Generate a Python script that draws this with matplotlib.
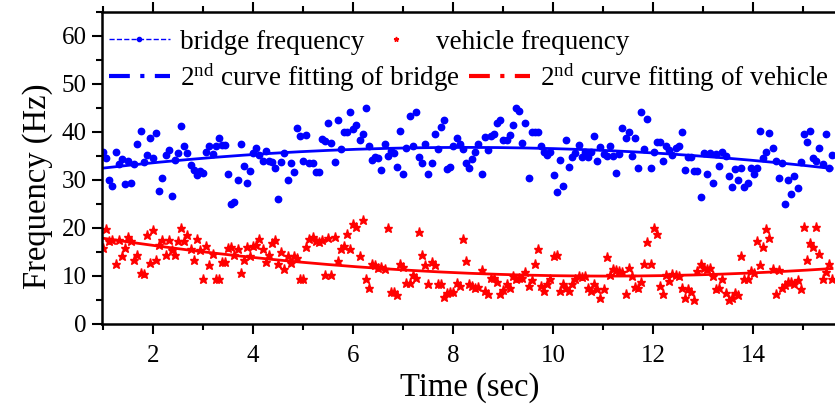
import numpy as np
import matplotlib
matplotlib.use("Agg")
import matplotlib.pyplot as plt
from matplotlib.lines import Line2D
from matplotlib.ticker import MultipleLocator

plt.rcParams['font.family'] = ['Liberation Serif', 'DejaVu Serif']
plt.rcParams['mathtext.fontset'] = 'custom'
plt.rcParams['mathtext.rm'] = 'Liberation Serif'
plt.rcParams['mathtext.it'] = 'Liberation Serif:italic'

# measured frequencies (Hz), sampled evenly from t = 1.0 s to t = 15.58 s
bridge_freq = [
    35.8, 34.5, 30.1, 28.8, 35.9, 33.3, 34.3, 29.1, 34.0, 29.4, 33.3, 37.4, 40.2, 33.8, 35.3,
    38.7, 34.6, 39.8, 27.8, 30.4, 35.3, 36.3, 26.7, 34.1, 35.6, 41.2, 37.1, 35.7, 33.2, 32.0,
    31.1, 31.8, 31.5, 35.9, 37.0, 35.5, 37.1, 38.7, 37.3, 37.3, 31.3, 25.0, 25.5, 29.9, 37.4,
    32.9, 29.4, 31.8, 35.7, 36.7, 35.2, 34.0, 36.0, 33.9, 33.7, 32.6, 26.1, 33.8, 35.6, 30.0,
    33.6, 31.6, 40.8, 39.1, 33.9, 39.4, 33.6, 33.5, 31.6, 31.6, 38.5, 38.2, 41.8, 37.8, 33.8,
    42.5, 36.5, 40.1, 39.9, 44.1, 40.7, 41.5, 38.4, 39.5, 44.9, 37.1, 34.1, 34.8, 34.6, 32.0,
    37.4, 34.9, 36.0, 35.6, 32.8, 40.3, 31.2, 36.6, 43.3, 37.1, 44.1, 34.7, 33.6, 37.4, 31.2,
    33.6, 39.5, 36.4, 41.0, 42.5, 32.3, 32.8, 37.1, 38.7, 37.4, 36.5, 33.6, 32.4,
    34.4, 35.8, 37.6, 31.2, 39.0, 36.3, 39.1, 39.5, 41.8, 42.5, 38.3, 38.3, 39.4, 41.5, 44.9,
    44.4, 37.8, 41.8, 30.5, 39.9, 40.1, 40.0, 37.1, 35.8, 35.2, 35.8, 31.0, 27.4, 34.2, 28.7,
    38.3, 32.8, 34.8, 35.6, 37.3, 34.8, 35.8, 34.8, 35.9, 39.1, 34.0, 36.9, 35.5, 35.1, 37.1,
    34.9, 31.5, 35.5, 40.9, 38.7, 40.1, 35.1, 38.7, 32.5, 44.1, 36.5, 42.8, 32.5,
    35.8, 38.0, 38.0, 34.0, 37.0, 36.3, 35.3, 36.6, 37.1, 40.1, 32.1, 34.8, 34.7, 31.9, 31.9,
    26.4, 35.7, 31.2, 35.7, 29.3, 35.5, 32.9, 35.9, 35.0, 30.8, 28.5, 32.3, 29.9, 32.6, 28.5,
    29.3, 32.6, 31.3, 32.6, 40.2, 34.5, 35.8, 39.7, 36.6, 34.0, 30.4, 33.6, 24.9, 29.9, 27.1,
    30.9, 28.3, 33.8, 39.5, 37.9, 40.2, 34.5, 34.0, 36.6, 33.4, 39.5, 32.4, 35.2,
]

vehicle_freq = [
    15.8, 19.7, 17.2, 17.4, 12.4, 17.6, 14.2, 15.8, 18.1, 17.2, 13.3, 14.3, 10.6, 10.4, 18.5,
    12.8, 19.5, 13.3, 16.5, 17.6, 14.4, 17.6, 15.5, 14.3, 17.2, 20.0, 17.2, 18.5, 15.7, 13.3,
    17.8, 15.5, 9.4, 16.3, 12.2, 14.5, 9.4, 9.4, 13.0, 13.0, 15.9, 16.0, 14.4, 15.7, 10.6,
    13.4, 16.0, 14.2, 16.3, 16.5, 17.8, 15.6, 13.0, 14.3, 16.9, 17.4, 12.6, 15.1, 11.5,
    14.1, 12.8, 14.1, 13.8, 9.4, 9.4, 16.0, 17.8, 18.2, 17.2, 17.1, 17.6, 10.3, 17.9, 10.3,
    18.2, 13.1, 15.6, 16.3, 18.7, 15.6, 20.8, 20.2, 14.1, 21.7, 9.4, 7.4, 12.4, 12.2, 11.7,
    11.8, 11.4, 20.1, 6.7, 6.7, 6.0, 12.4, 11.9, 8.6, 8.6, 10.2, 9.6, 19.2, 14.3, 12.3,
    8.3, 13.0, 12.2, 8.3, 8.3, 5.6, 6.4, 6.7, 6.7, 8.6, 7.9, 17.8, 13.1,
    8.3, 8.0, 7.6, 7.8, 11.3, 6.9, 6.3, 9.6, 9.6, 8.8, 6.3, 7.1, 8.3, 7.6, 10.1,
    9.3, 9.6, 9.5, 10.9, 8.0, 9.2, 12.6, 15.6, 7.9, 6.8, 8.3, 9.4, 14.1, 14.4, 6.8,
    8.4, 7.5, 6.8, 8.4, 9.4, 10.1, 9.8, 9.9, 7.5, 6.8, 8.3, 7.3, 5.4, 7.3, 14.0,
    10.2, 11.4, 11.3, 11.0, 10.9, 6.3, 11.7, 10.1, 7.7, 7.5, 8.7, 12.4, 17.1,
    12.4, 19.9, 18.7, 8.0, 6.3, 10.3, 9.0, 10.4, 10.2, 9.9, 7.4, 5.5, 7.3, 6.7, 4.9,
    11.0, 12.6, 11.6, 11.5, 11.6, 9.9, 7.2, 7.4, 9.4, 6.4, 5.1, 5.4, 6.4, 6.0, 14.1,
    9.4, 9.4, 11.0, 10.6, 17.2, 12.3, 16.0, 19.7, 18.0, 11.5, 6.3, 11.3, 7.4, 8.1, 8.8,
    8.8, 8.3, 9.1, 7.3, 20.2, 13.4, 16.8, 16.0, 20.2, 14.5, 9.4, 10.9, 12.4, 9.4,
]

t_start, t_end = 1.0, 15.58
t_bridge = np.linspace(t_start, t_end, len(bridge_freq))
t_vehicle = np.linspace(t_start, t_end, len(vehicle_freq))

# 2nd order polynomial fits
fit_bridge = np.polyval(np.polyfit(t_bridge, bridge_freq, 2), t_bridge)
fit_vehicle = np.polyval(np.polyfit(t_vehicle, vehicle_freq, 2), t_vehicle)

blue = '#0000FF'
red = '#FF0000'

fig = plt.figure(figsize=(8.35, 4.05), dpi=100)
ax = fig.add_axes([102 / 835, 81 / 405, 735 / 835, 312 / 405])

ax.plot(t_bridge, bridge_freq, ls='none', marker='o', ms=4.6, color=blue, mec=blue)
ax.plot(t_vehicle, vehicle_freq, ls='none', marker='*', ms=6.5, color=red, mec=red)
ax.plot(t_bridge, fit_bridge, color=blue, lw=2)
ax.plot(t_vehicle, fit_vehicle, color=red, lw=2)

ax.set_xlim(0.98, 15.68)
ax.set_ylim(0, 65)
ax.xaxis.set_major_locator(MultipleLocator(2))
ax.xaxis.set_minor_locator(MultipleLocator(1))
ax.yaxis.set_minor_locator(MultipleLocator(5))
ax.set_yticks([0, 10, 20, 30, 40, 50, 60])
ax.tick_params(which='major', direction='out', length=7, width=1.5, labelsize=18, pad=4)
ax.tick_params(axis='x', which='major', pad=8)
ax.tick_params(which='minor', direction='out', length=4, width=1.5)
ax.tick_params(which='both', top=True, labeltop=False)
for s in ax.spines.values():
    s.set_linewidth(1.8)
ax.spines['right'].set_visible(False)

ax.set_xlabel('Time (sec)', fontsize=23.5, labelpad=4)
ax.set_ylabel('Frequency (Hz)', fontsize=23.5)
ax.yaxis.set_label_coords(-0.066, 0.44)

dashdot = (0, (5, 2.5, 1, 2.5))
row1 = [
    Line2D([], [], color=blue, ls='--', lw=1, marker='o', ms=3),
    Line2D([], [], color=red, ls='none', marker='*', ms=3.5),
]
row2 = [
    Line2D([], [], color=blue, ls=dashdot, lw=3),
    Line2D([], [], color=red, ls=dashdot, lw=3),
]
leg_kw = dict(ncol=2, loc='upper left', frameon=False, fontsize=19.5,
              handlelength=2.25, handletextpad=0.37, borderaxespad=0, borderpad=0.25)
leg1 = ax.legend(row1, ['bridge frequency', 'vehicle frequency'],
                 bbox_to_anchor=(0.0, 0.965), columnspacing=0.05, **leg_kw)
ax.add_artist(leg1)
ax.legend(row2, ['2$^{\\mathrm{nd}}$ curve fitting of bridge', '2$^{\\mathrm{nd}}$ curve fitting of vehicle'],
          bbox_to_anchor=(0.0, 0.863), columnspacing=0.35, **leg_kw)

fig.savefig('out.png', dpi=100)
